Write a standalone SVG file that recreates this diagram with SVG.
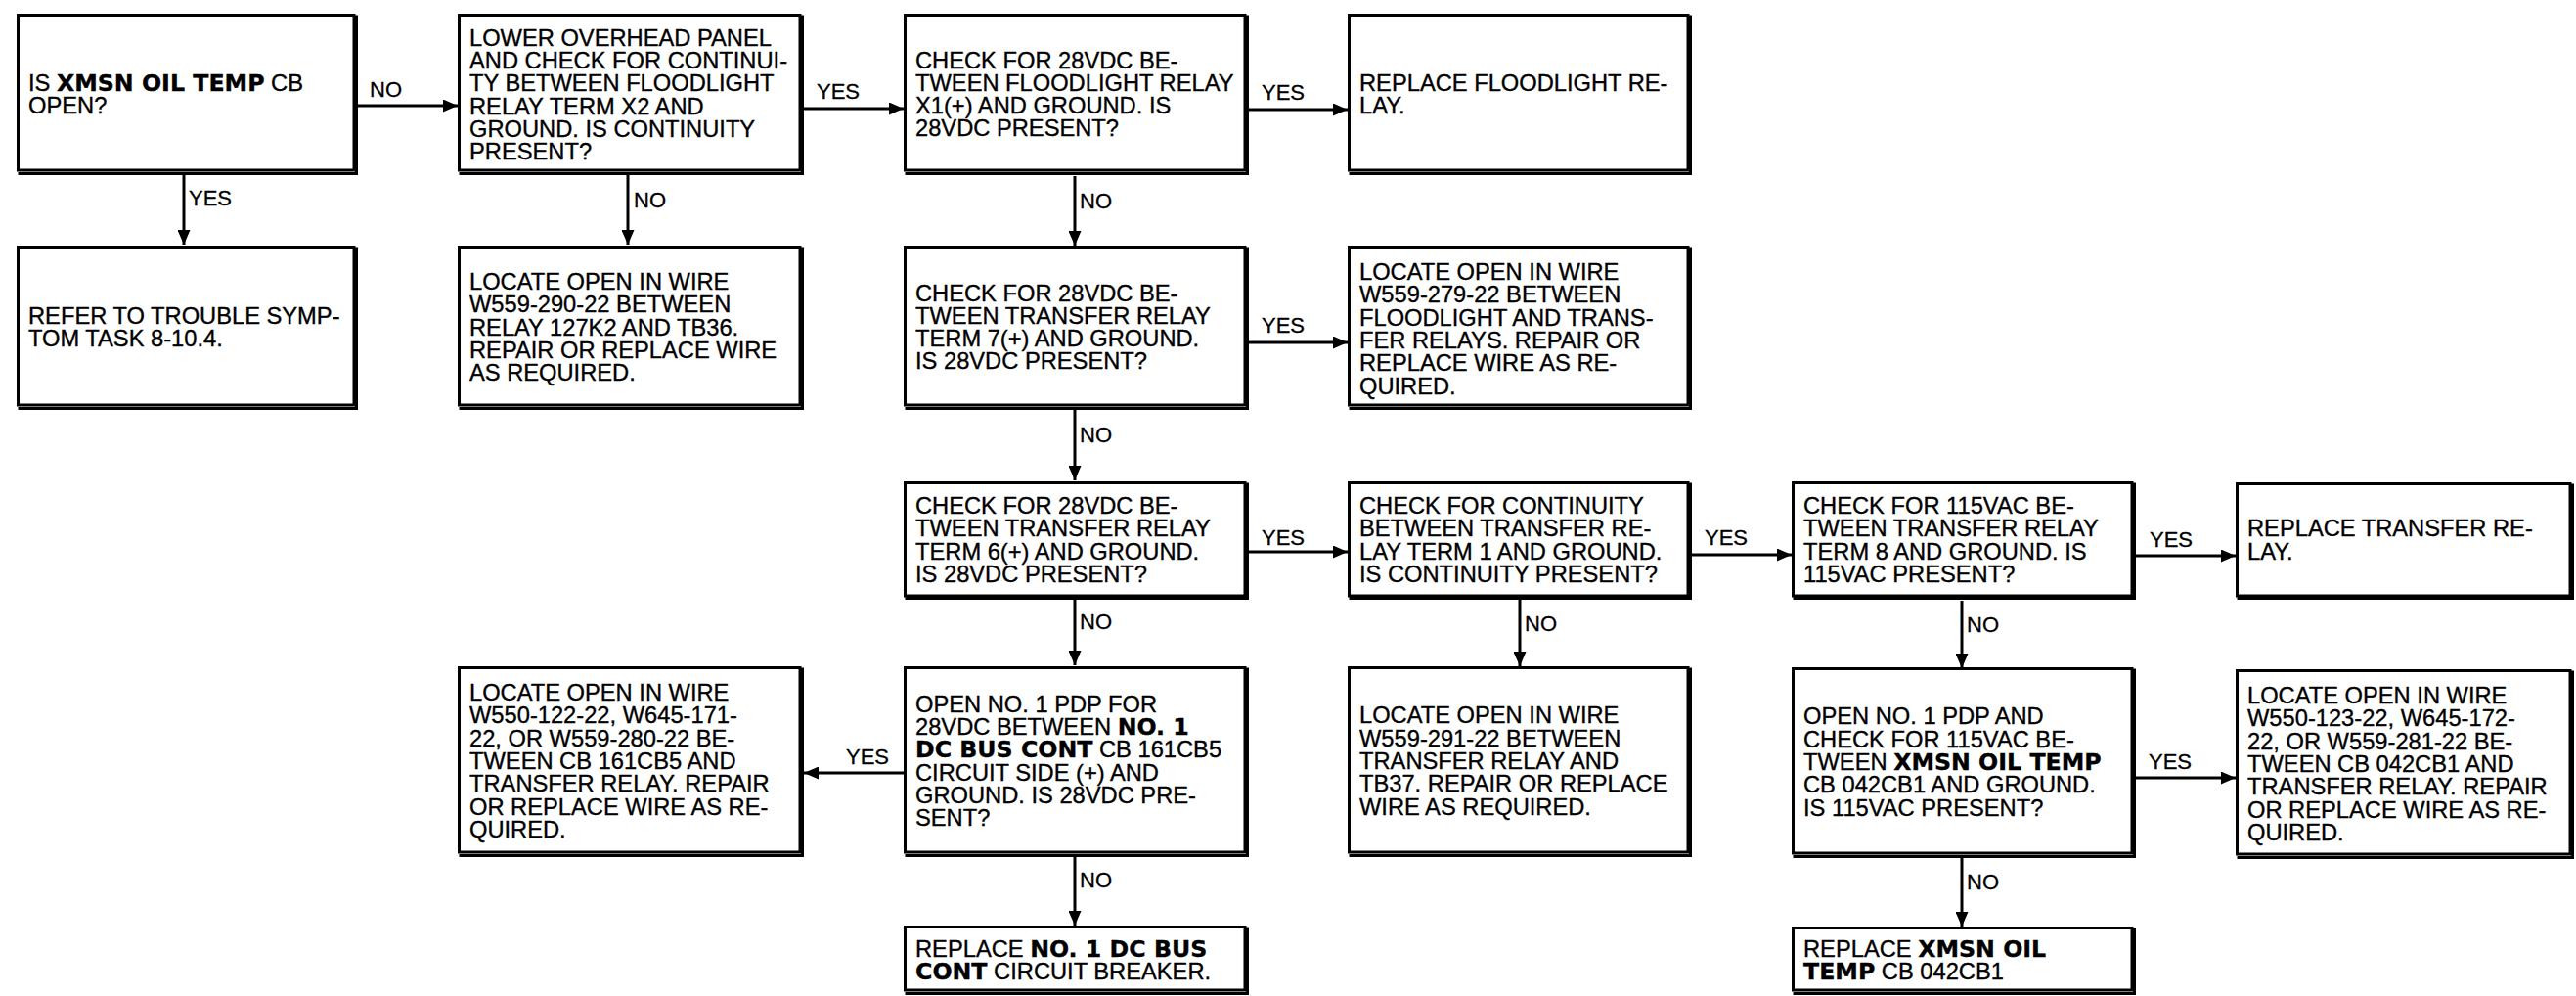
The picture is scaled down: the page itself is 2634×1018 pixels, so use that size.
<svg xmlns="http://www.w3.org/2000/svg" width="2634" height="1018" viewBox="0 0 2634 1018">
<style>
.box{fill:#fff;stroke:#000;stroke-width:3}
.sh{fill:none;stroke:#000;stroke-width:3}
.t{font-family:"Liberation Sans",Arial,sans-serif;font-size:23.7px;fill:#000;stroke:#000;stroke-width:0.35}
.b{font-family:"DejaVu Sans",sans-serif;font-weight:bold}
.lbl{font-family:"Liberation Sans",Arial,sans-serif;font-size:22px;fill:#000;stroke:#000;stroke-width:0.3}
.c{fill:none;stroke:#000;stroke-width:3;marker-end:url(#ah)}
</style>
<defs>
<marker id="ah" markerUnits="userSpaceOnUse" markerWidth="15" markerHeight="13" refX="15" refY="6.5" orient="auto">
<path d="M0,0 L15,6.5 L0,13 z" fill="#000"/>
</marker>
</defs>
<rect width="2634" height="1018" fill="#fff"/>

<g id="connectors">
<path class="c" d="M188,179 V250"/>
<path class="c" d="M642,179 V250"/>
<path class="c" d="M1099,180 V251"/>
<path class="c" d="M1099,418 V491"/>
<path class="c" d="M1099,612 V680"/>
<path class="c" d="M1099,875 V946"/>
<path class="c" d="M1554,613 V681"/>
<path class="c" d="M2006,614 V683"/>
<path class="c" d="M2006,877 V947"/>
<path class="c" d="M366,108 H468"/>
<path class="c" d="M822,111 H924"/>
<path class="c" d="M1277,112 H1378"/>
<path class="c" d="M1277,350 H1378"/>
<path class="c" d="M1277,564 H1378"/>
<path class="c" d="M1730,567 H1832"/>
<path class="c" d="M2184,568 H2286"/>
<path class="c" d="M924,790 H822"/>
<path class="c" d="M2184,795 H2286"/>
<text class="lbl" x="378" y="99">NO</text>
<text class="lbl" x="835" y="101">YES</text>
<text class="lbl" x="1290" y="102">YES</text>
<text class="lbl" x="1290" y="340">YES</text>
<text class="lbl" x="1290" y="557">YES</text>
<text class="lbl" x="1743" y="557">YES</text>
<text class="lbl" x="2198" y="559">YES</text>
<text class="lbl" x="865" y="781">YES</text>
<text class="lbl" x="2197" y="786">YES</text>
<text class="lbl" x="193" y="210">YES</text>
<text class="lbl" x="648" y="212">NO</text>
<text class="lbl" x="1104" y="213">NO</text>
<text class="lbl" x="1104" y="452">NO</text>
<text class="lbl" x="1104" y="643">NO</text>
<text class="lbl" x="1104" y="907">NO</text>
<text class="lbl" x="1559" y="645">NO</text>
<text class="lbl" x="2011" y="646">NO</text>
<text class="lbl" x="2011" y="909">NO</text>
</g>

<g id="nodeA">
<rect class="box" x="18.5" y="15.5" width="343.5" height="158.5"/>
<path class="sh" d="M364.5,15.5 V177.5 H18.5"/>
<text class="t"><tspan x="29" y="93">IS <tspan class="b">XMSN OIL TEMP</tspan> CB</tspan><tspan x="29" y="116.3">OPEN?</tspan></text>
</g>

<g id="nodeB">
<rect class="box" x="469.5" y="15.5" width="348.5" height="158.5"/>
<path class="sh" d="M820.5,15.5 V177.5 H469.5"/>
<text class="t"><tspan x="480" y="46.8">LOWER OVERHEAD PANEL</tspan><tspan x="480" y="70.1">AND CHECK FOR CONTINUI-</tspan><tspan x="480" y="93.4">TY BETWEEN FLOODLIGHT</tspan><tspan x="480" y="116.7">RELAY TERM X2 AND</tspan><tspan x="480" y="140">GROUND. IS CONTINUITY</tspan><tspan x="480" y="163.3">PRESENT?</tspan></text>
</g>

<g id="nodeC">
<rect class="box" x="925.5" y="15.5" width="347.5" height="158.5"/>
<path class="sh" d="M1275.5,15.5 V177.5 H925.5"/>
<text class="t"><tspan x="936" y="69.5">CHECK FOR 28VDC BE-</tspan><tspan x="936" y="92.8">TWEEN FLOODLIGHT RELAY</tspan><tspan x="936" y="116.1">X1(+) AND GROUND. IS</tspan><tspan x="936" y="139.4">28VDC PRESENT?</tspan></text>
</g>

<g id="nodeD">
<rect class="box" x="1379.5" y="15.5" width="346.5" height="158.5"/>
<path class="sh" d="M1728.5,15.5 V177.5 H1379.5"/>
<text class="t"><tspan x="1390" y="92.9">REPLACE FLOODLIGHT RE-</tspan><tspan x="1390" y="116.2">LAY.</tspan></text>
</g>

<g id="nodeE">
<rect class="box" x="18.5" y="252.5" width="343.5" height="161.5"/>
<path class="sh" d="M364.5,252.5 V417.5 H18.5"/>
<text class="t"><tspan x="29" y="330.9">REFER TO TROUBLE SYMP-</tspan><tspan x="29" y="354.2">TOM TASK 8-10.4.</tspan></text>
</g>

<g id="nodeF">
<rect class="box" x="469.5" y="252.5" width="348.5" height="161.5"/>
<path class="sh" d="M820.5,252.5 V417.5 H469.5"/>
<text class="t"><tspan x="480" y="295.9">LOCATE OPEN IN WIRE</tspan><tspan x="480" y="319.2">W559-290-22 BETWEEN</tspan><tspan x="480" y="342.5">RELAY 127K2 AND TB36.</tspan><tspan x="480" y="365.8">REPAIR OR REPLACE WIRE</tspan><tspan x="480" y="389.1">AS REQUIRED.</tspan></text>
</g>

<g id="nodeG">
<rect class="box" x="925.5" y="252.5" width="347.5" height="161.5"/>
<path class="sh" d="M1275.5,252.5 V417.5 H925.5"/>
<text class="t"><tspan x="936" y="307.5">CHECK FOR 28VDC BE-</tspan><tspan x="936" y="330.8">TWEEN TRANSFER RELAY</tspan><tspan x="936" y="354.1">TERM 7(+) AND GROUND.</tspan><tspan x="936" y="377.4">IS 28VDC PRESENT?</tspan></text>
</g>

<g id="nodeH">
<rect class="box" x="1379.5" y="252.5" width="346.5" height="161.5"/>
<path class="sh" d="M1728.5,252.5 V417.5 H1379.5"/>
<text class="t"><tspan x="1390" y="286">LOCATE OPEN IN WIRE</tspan><tspan x="1390" y="309.3">W559-279-22 BETWEEN</tspan><tspan x="1390" y="332.6">FLOODLIGHT AND TRANS-</tspan><tspan x="1390" y="355.9">FER RELAYS. REPAIR OR</tspan><tspan x="1390" y="379.2">REPLACE WIRE AS RE-</tspan><tspan x="1390" y="402.5">QUIRED.</tspan></text>
</g>

<g id="nodeI">
<rect class="box" x="925.5" y="493.5" width="347.5" height="115.5"/>
<path class="sh" d="M1275.5,493.5 V611.5 H925.5"/>
<text class="t"><tspan x="936" y="525">CHECK FOR 28VDC BE-</tspan><tspan x="936" y="548.3">TWEEN TRANSFER RELAY</tspan><tspan x="936" y="571.6">TERM 6(+) AND GROUND.</tspan><tspan x="936" y="594.9">IS 28VDC PRESENT?</tspan></text>
</g>

<g id="nodeJ">
<rect class="box" x="1379.5" y="493.5" width="346.5" height="115.5"/>
<path class="sh" d="M1728.5,493.5 V611.5 H1379.5"/>
<text class="t"><tspan x="1390" y="525">CHECK FOR CONTINUITY</tspan><tspan x="1390" y="548.3">BETWEEN TRANSFER RE-</tspan><tspan x="1390" y="571.6">LAY TERM 1 AND GROUND.</tspan><tspan x="1390" y="594.9">IS CONTINUITY PRESENT?</tspan></text>
</g>

<g id="nodeK">
<rect class="box" x="1833.5" y="493.5" width="346.5" height="115.5"/>
<path class="sh" d="M2182.5,493.5 V611.5 H1833.5"/>
<text class="t"><tspan x="1844" y="525">CHECK FOR 115VAC BE-</tspan><tspan x="1844" y="548.3">TWEEN TRANSFER RELAY</tspan><tspan x="1844" y="571.6">TERM 8 AND GROUND. IS</tspan><tspan x="1844" y="594.9">115VAC PRESENT?</tspan></text>
</g>

<g id="nodeL">
<rect class="box" x="2287.5" y="494.5" width="340.5" height="114.5"/>
<path class="sh" d="M2630.5,494.5 V611.5 H2287.5"/>
<text class="t"><tspan x="2298" y="548.4">REPLACE TRANSFER RE-</tspan><tspan x="2298" y="571.7">LAY.</tspan></text>
</g>

<g id="nodeM">
<rect class="box" x="469.5" y="682.5" width="348.5" height="188.5"/>
<path class="sh" d="M820.5,682.5 V874.5 H469.5"/>
<text class="t"><tspan x="480" y="716.1">LOCATE OPEN IN WIRE</tspan><tspan x="480" y="739.4">W550-122-22, W645-171-</tspan><tspan x="480" y="762.7">22, OR W559-280-22 BE-</tspan><tspan x="480" y="786">TWEEN CB 161CB5 AND</tspan><tspan x="480" y="809.3">TRANSFER RELAY. REPAIR</tspan><tspan x="480" y="832.6">OR REPLACE WIRE AS RE-</tspan><tspan x="480" y="855.9">QUIRED.</tspan></text>
</g>

<g id="nodeN">
<rect class="box" x="925.5" y="682.5" width="347.5" height="188.5"/>
<path class="sh" d="M1275.5,682.5 V874.5 H925.5"/>
<text class="t"><tspan x="936" y="727.8">OPEN NO. 1 PDP FOR</tspan><tspan x="936" y="751.1">28VDC BETWEEN <tspan class="b">NO. 1</tspan></tspan><tspan x="936" y="774.4"><tspan class="b">DC BUS CONT</tspan> CB 161CB5</tspan><tspan x="936" y="797.7">CIRCUIT SIDE (+) AND</tspan><tspan x="936" y="821">GROUND. IS 28VDC PRE-</tspan><tspan x="936" y="844.3">SENT?</tspan></text>
</g>

<g id="nodeO">
<rect class="box" x="1379.5" y="682.5" width="346.5" height="188.5"/>
<path class="sh" d="M1728.5,682.5 V874.5 H1379.5"/>
<text class="t"><tspan x="1390" y="739.4">LOCATE OPEN IN WIRE</tspan><tspan x="1390" y="762.7">W559-291-22 BETWEEN</tspan><tspan x="1390" y="786">TRANSFER RELAY AND</tspan><tspan x="1390" y="809.3">TB37. REPAIR OR REPLACE</tspan><tspan x="1390" y="832.6">WIRE AS REQUIRED.</tspan></text>
</g>

<g id="nodeP">
<rect class="box" x="1833.5" y="683.5" width="346.5" height="188.5"/>
<path class="sh" d="M2182.5,683.5 V875.5 H1833.5"/>
<text class="t"><tspan x="1844" y="740.4">OPEN NO. 1 PDP AND</tspan><tspan x="1844" y="763.7">CHECK FOR 115VAC BE-</tspan><tspan x="1844" y="787">TWEEN <tspan class="b">XMSN OIL TEMP</tspan></tspan><tspan x="1844" y="810.3">CB 042CB1 AND GROUND.</tspan><tspan x="1844" y="833.6">IS 115VAC PRESENT?</tspan></text>
</g>

<g id="nodeQ">
<rect class="box" x="2287.5" y="685.5" width="340.5" height="187.5"/>
<path class="sh" d="M2630.5,685.5 V876.5 H2287.5"/>
<text class="t"><tspan x="2298" y="719.1">LOCATE OPEN IN WIRE</tspan><tspan x="2298" y="742.4">W550-123-22, W645-172-</tspan><tspan x="2298" y="765.7">22, OR W559-281-22 BE-</tspan><tspan x="2298" y="789">TWEEN CB 042CB1 AND</tspan><tspan x="2298" y="812.3">TRANSFER RELAY. REPAIR</tspan><tspan x="2298" y="835.6">OR REPLACE WIRE AS RE-</tspan><tspan x="2298" y="858.9">QUIRED.</tspan></text>
</g>

<g id="nodeR">
<rect class="box" x="925.5" y="947.5" width="347.5" height="64.5"/>
<path class="sh" d="M1275.5,947.5 V1015.5 H925.5"/>
<text class="t"><tspan x="936" y="977.9">REPLACE <tspan class="b">NO. 1 DC BUS</tspan></tspan><tspan x="936" y="1001.2"><tspan class="b">CONT</tspan> CIRCUIT BREAKER.</tspan></text>
</g>

<g id="nodeS">
<rect class="box" x="1833.5" y="948.5" width="346.5" height="63.5"/>
<path class="sh" d="M2182.5,948.5 V1015.5 H1833.5"/>
<text class="t"><tspan x="1844" y="977.9">REPLACE <tspan class="b">XMSN OIL</tspan></tspan><tspan x="1844" y="1001.2"><tspan class="b">TEMP</tspan> CB 042CB1</tspan></text>
</g>
</svg>
